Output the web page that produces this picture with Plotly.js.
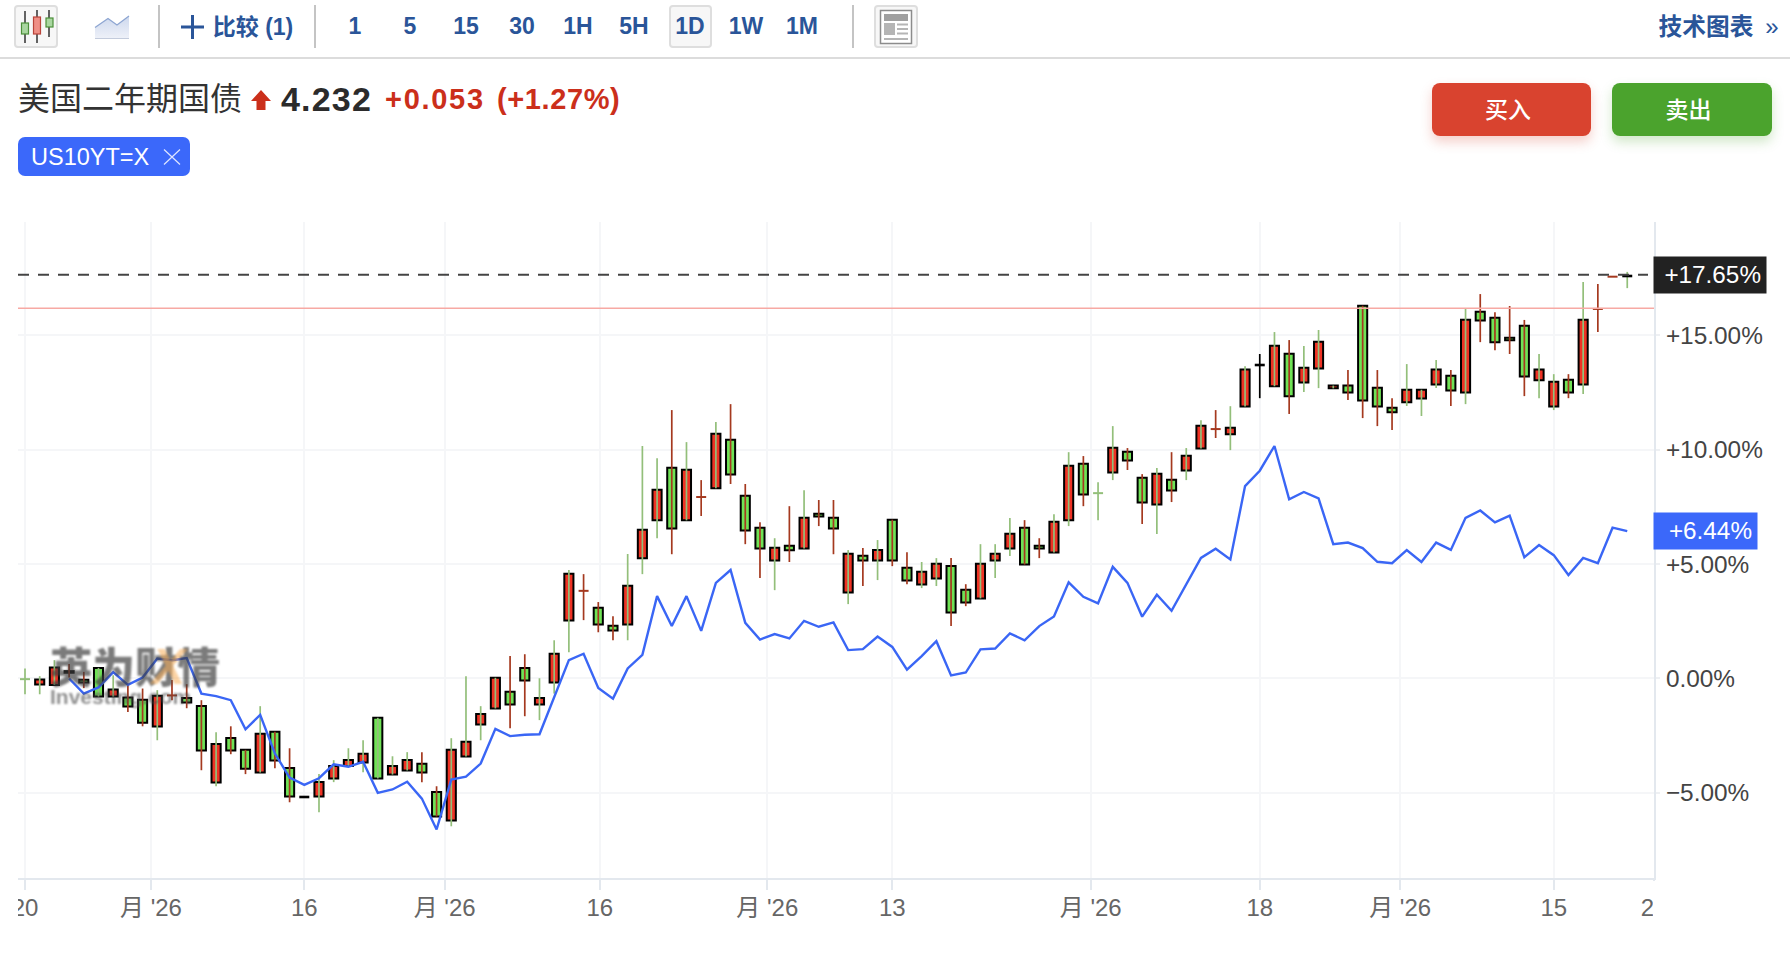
<!DOCTYPE html>
<html><head><meta charset="utf-8">
<script src="https://cdn.plot.ly/plotly-3.0.1.min.js"></script>
<style>
html,body{margin:0;padding:0;background:#fff;width:1790px;height:956px;overflow:hidden}
body{font-family:"Liberation Sans",Arial,sans-serif;position:relative}
#chart{position:absolute;left:0;top:0;width:1790px;height:956px}
.ab{position:absolute;white-space:nowrap}
.tb{position:absolute;top:26px;transform:translate(-50%,-50%);font:700 23px "Liberation Sans","Noto Sans CJK SC",sans-serif;color:#2a5599;white-space:nowrap}
.sep{position:absolute;top:5px;width:2px;height:43px;background:#c4c4c4}
.btnbox{position:absolute;top:5px;height:43px;box-sizing:border-box;background:#f7f7f7;border:2px solid #dedede;border-radius:4px}
.btn{position:absolute;top:83px;height:53px;box-sizing:border-box;padding-right:7px;border-radius:8px;color:#fff;text-align:center;font:500 23px/51px "Noto Sans CJK SC",sans-serif}
</style></head><body>
<div id="chart"></div>

<div class="btnbox" style="left:14px;width:44px"></div>
<svg class="ab" style="left:0;top:0" width="140" height="58">
 <path d="M25 11V43M37 10V43M49 10V37" stroke="#333" stroke-width="1.5"/>
 <rect x="21.5" y="23" width="7" height="11" fill="#a9d6a0" stroke="#4c8f3a" stroke-width="1.2"/>
 <rect x="33.5" y="17" width="7" height="17" fill="#ef8f86" stroke="#b9443a" stroke-width="1.2"/>
 <rect x="46" y="18" width="7" height="9" fill="#a9d6a0" stroke="#4c8f3a" stroke-width="1.2"/>
 <defs><linearGradient id="ga" x1="0" y1="0" x2="0" y2="1"><stop offset="0" stop-color="#cdd8ee"/><stop offset="1" stop-color="#eef1f8"/></linearGradient></defs>
 <path d="M95 27.5L108 18.5L117 25L129 16V38.5H95Z" fill="url(#ga)"/>
 <path d="M95 27.5L108 18.5L117 25L129 16" fill="none" stroke="#8ea6d2" stroke-width="1.3"/>
 <path d="M95 38.5H129" stroke="#c3cbdc" stroke-width="1"/>
</svg>
<div class="sep" style="left:158px"></div>
<svg class="ab" style="left:180px;top:14px" width="26" height="26"><path d="M1 13H24M12.5 1V25" stroke="#2a5599" stroke-width="3"/></svg>
<div class="tb" style="left:253px;top:25px">比较 (1)</div>
<div class="sep" style="left:314px"></div>
<div class="tb" style="left:355px">1</div>
<div class="tb" style="left:410px">5</div>
<div class="tb" style="left:466px">15</div>
<div class="tb" style="left:522px">30</div>
<div class="tb" style="left:578px">1H</div>
<div class="tb" style="left:634px">5H</div>
<div class="btnbox" style="left:669px;width:43px"></div>
<div class="tb" style="left:690px">1D</div>
<div class="tb" style="left:746px">1W</div>
<div class="tb" style="left:802px">1M</div>
<div class="sep" style="left:852px"></div>
<div class="btnbox" style="left:874px;width:44px"></div>
<svg class="ab" style="left:874px;top:5px" width="44" height="43">
 <rect x="6.5" y="5.5" width="31" height="33" fill="#fff" stroke="#8c8c8c" stroke-width="1.5"/>
 <rect x="10" y="9" width="24" height="7" fill="#a0a0a0"/>
 <rect x="10" y="18" width="11" height="12" fill="#b5b5b5"/>
 <path d="M23 19.5H34M23 24H34M23 28.5H34M10 34H34" stroke="#b5b5b5" stroke-width="2"/>
</svg>
<div class="tb" style="left:1706px;top:25px;font-size:23.7px;font-family:'Noto Sans CJK SC',sans-serif">技术图表</div>
<div class="tb" style="left:1772px;font-weight:400;font-size:24px;top:27px">»</div>
<div class="ab" style="left:0;top:57px;width:1790px;height:2px;background:#dcdcdc"></div>

<svg class="ab" style="left:250px;top:89px" width="22" height="22"><path d="M11 1L21 12H15.5V21H6.5V12H1Z" fill="#cb2f1b"/></svg>
<div class="ab" style="left:281px;top:80px;font:700 34px/38px 'Liberation Sans',sans-serif;color:#2b2b2b;letter-spacing:1.2px">4.232</div>
<div class="ab" style="left:385px;top:82px;font:700 29px/34px 'Liberation Sans',sans-serif;color:#cb2f1b;letter-spacing:1.7px">+0.053</div>
<div class="ab" style="left:497px;top:82px;font:700 29px/34px 'Liberation Sans',sans-serif;color:#cb2f1b;letter-spacing:.6px">(+1.27%)</div>

<div class="btn" style="left:1432px;width:159px;background:#d9432f;box-shadow:0 6px 12px rgba(217,67,47,.25)">买入</div>
<div class="btn" style="left:1612px;width:160px;background:#4ba32d;box-shadow:0 6px 12px rgba(75,163,45,.25)">卖出</div>

<div class="ab" style="left:18px;top:137px;width:172px;height:39px;border-radius:7px;background:#3b68fa;color:#fff;font:400 23.5px/41px 'Liberation Sans',sans-serif;text-indent:13px">US10YT=X</div>
<svg class="ab" style="left:163px;top:149px" width="18" height="16"><path d="M1 0.5L17 15.5M17 0.5L1 15.5" stroke="#dfe6ff" stroke-width="1.2"/></svg>

<div class="ab" style="left:50px;top:643px;font:900 42.5px/44px 'Noto Sans CJK SC',sans-serif;color:rgba(60,60,60,.68);filter:blur(1.2px);pointer-events:none">英为财情</div>
<div class="ab" style="left:152px;top:642px;font:italic 700 50px/50px 'Liberation Sans',sans-serif;color:rgba(250,175,90,.55);filter:blur(1.2px);pointer-events:none">X</div>
<div class="ab" style="left:50px;top:686px;font:700 21px/22px 'Liberation Sans',sans-serif;color:rgba(70,70,70,.6);filter:blur(1px);pointer-events:none">Investing.com</div>

<div class="ab" style="left:0;top:884px;width:18px;height:50px;background:#fff"></div>
<div class="ab" style="left:1653px;top:881px;width:40px;height:53px;background:#fff"></div>

<script>
var opens=[-0.03,-0.26,-0.28,0.25,-0.06,0.46,-0.79,-0.83,-0.93,-2.10,-0.74,-0.85,-1.20,-4.55,-2.60,-3.12,-4.11,-2.33,-3.91,-5.18,-5.16,-4.37,-3.82,-3.67,-1.72,-4.20,-4.02,-3.73,-4.96,-6.21,-3.41,-2.01,-1.31,-0.58,0.46,-1.14,-0.18,2.53,3.83,3.09,2.30,2.36,5.25,6.91,9.21,6.91,7.93,8.31,10.43,7.99,6.59,5.16,5.80,5.68,7.20,7.02,3.76,5.36,5.16,6.94,4.84,4.11,4.37,4.92,3.88,3.50,5.16,5.68,6.59,5.80,5.51,6.91,9.38,8.10,9.00,9.91,8.77,7.60,8.68,9.09,10.05,10.90,10.67,11.89,13.70,12.77,14.19,12.94,13.55,12.68,12.80,16.29,12.71,11.83,12.07,12.24,12.85,13.23,12.50,16.03,15.77,14.89,15.42,13.03,11.89,13.06,12.85,16.15,17.56,17.59];
var closes=[-0.03,-0.05,0.48,0.32,-0.18,-0.79,-0.48,-1.23,-1.93,-0.76,-0.74,-1.05,-3.15,-2.86,-3.15,-3.94,-2.42,-3.59,-5.16,-5.18,-4.52,-3.82,-3.56,-3.29,-4.37,-3.82,-3.56,-4.11,-6.03,-3.12,-2.77,-1.55,0.03,-1.14,-0.09,-0.85,1.08,4.58,3.83,2.36,2.10,4.05,6.50,8.25,6.56,9.12,7.93,10.70,8.92,6.47,5.68,5.71,5.60,7.02,7.08,6.56,5.45,5.16,5.62,5.16,4.28,4.66,5.01,2.88,3.32,5.01,5.45,6.32,4.98,5.68,6.85,9.30,8.04,8.10,10.08,9.53,7.69,8.95,8.22,9.73,11.05,10.90,10.96,13.50,13.70,14.54,12.33,13.58,14.72,12.80,12.50,12.15,11.89,11.63,12.62,12.62,13.50,12.59,15.68,15.65,14.69,14.78,13.20,13.50,12.97,12.50,15.68,16.15,17.56,17.59];
var highs=[0.44,0.10,0.80,0.63,0.29,0.46,0.14,-0.29,-0.44,-0.51,-0.07,-0.25,-0.95,-2.35,-2.09,-3.12,-1.21,-2.33,-3.05,-5.18,-4.18,-3.57,-3.05,-2.70,-1.72,-3.40,-3.22,-3.22,-4.71,-2.61,0.10,-1.21,0.03,0.98,1.06,0.01,1.67,4.74,4.56,3.34,2.72,5.44,10.16,9.63,11.73,10.33,8.67,11.21,11.99,8.50,6.83,6.13,7.53,8.23,7.80,7.80,5.61,5.70,6.05,6.94,5.52,5.09,5.26,5.26,4.12,5.87,5.87,7.01,6.92,6.13,7.18,9.89,9.72,8.58,11.03,10.07,8.93,9.20,9.89,10.07,11.29,11.73,11.90,13.65,14.18,15.14,14.79,14.53,15.23,12.80,13.48,16.29,13.48,12.25,13.74,12.62,13.92,13.48,16.19,16.80,16.01,16.28,15.67,14.18,13.30,13.30,17.33,17.24,17.56,17.77];
var lows=[-0.69,-0.69,-0.28,0.04,-0.42,-0.79,-0.79,-1.47,-2.09,-2.70,-0.95,-1.30,-4.01,-4.71,-3.31,-4.18,-4.11,-3.92,-5.41,-5.18,-5.85,-4.53,-3.82,-4.10,-4.37,-4.20,-4.02,-4.53,-6.03,-6.46,-3.41,-2.70,-1.31,-2.17,-1.65,-1.82,-0.66,1.15,2.55,2.02,1.67,1.67,4.56,6.13,5.43,6.91,7.10,8.31,8.50,5.87,4.39,3.86,5.09,5.68,6.66,5.43,3.25,4.04,4.30,4.91,4.12,3.95,4.04,2.29,3.16,3.50,4.39,5.35,4.98,5.26,5.51,6.66,7.53,6.92,8.67,9.11,6.75,6.31,7.71,8.67,10.05,10.51,9.98,11.89,12.25,12.77,11.56,12.52,12.69,12.68,12.17,11.38,11.03,10.86,11.91,11.47,12.69,11.91,11.99,14.70,14.35,14.18,12.34,12.25,11.73,12.25,12.43,15.14,17.56,17.06];
var wicks=["g","g","g","r","r","g","g","r","r","g",
 "r","r","r","g","r","r","g","r","r","k",
 "g","g","g","g","g","g","g","r","r","g",
 "g","g","g","r","r","g","g","g","r","r",
 "r","g","g","g","r","g","r","g","r","r",
 "r","g","r","g","r","r","g","r","g","r",
 "r","g","g","r","r","g","g","g","r","r",
 "g","g","r","g","g","r","r","g","r","g",
 "g","r","g","g","k","g","r","g","g","g",
 "r","r","r","r","g","g","g","r","g","r",
 "r","r","r","g","g","r","g","r","r","g"];
var compare=[null,null,null,0.00,-0.66,-0.39,0.28,-0.28,0.04,0.87,0.80,0.89,-0.66,-0.77,-0.95,-2.22,-1.59,-3.28,-4.33,-4.65,-4.36,-3.75,-3.86,-3.64,-5.00,-4.85,-4.51,-5.25,-6.60,-4.42,-4.29,-3.72,-2.20,-2.52,-2.46,-2.44,-0.80,0.80,1.08,-0.42,-0.88,0.44,1.03,3.60,2.29,3.60,2.08,4.18,4.74,2.43,1.70,1.94,1.75,2.52,2.26,2.45,1.24,1.28,1.83,1.38,0.39,0.98,1.63,0.13,0.26,1.27,1.31,1.97,1.67,2.29,2.71,4.20,3.57,3.28,4.88,4.18,2.70,3.66,2.96,4.12,5.27,5.67,5.20,8.41,9.08,10.16,7.83,8.15,7.87,5.87,5.94,5.70,5.10,5.04,5.61,5.09,5.94,5.62,7.02,7.34,6.82,7.12,5.30,5.83,5.39,4.52,5.27,5.04,6.59,6.44];
var blackDoji=[19,84,109];
var xTickVals=[0,8.57,19,28.55,39.1,50.5,59,72.5,84,93.55,104,110.82];
var xTickText=["20","月 '26","16","月 '26","16","月 '26","13","月 '26","18","月 '26","15","22"];
var yTickVals=[-5,0,5,10,15];
var yTickText=["−5.00%","0.00%","+5.00%","+10.00%","+15.00%"];
var lastPrice=17.65, compareLast=6.44, refLine=16.18;

var RED="#ee3224",GREEN="#6fe356",WR="#a5391f",WG="#93bf7a";
var idx=opens.map(function(_,i){return i});
var colorOf={r:WR,g:WG,k:"#000"};
function wickTrace(k){
  var x=[],y=[];
  idx.forEach(function(i){ if(wicks[i]===k && highs[i]>lows[i]){x.push(i,i,null);y.push(lows[i],highs[i],null);} });
  return {type:"scatter",mode:"lines",x:x,y:y,line:{color:colorOf[k],width:1.7},hoverinfo:"skip",showlegend:false};
}
var body=idx.filter(function(i){return opens[i]!==closes[i]});
var bars={type:"bar",x:body,y:body.map(function(i){return Math.abs(closes[i]-opens[i])}),
  base:body.map(function(i){return Math.min(opens[i],closes[i])}),width:0.62,
  marker:{color:body.map(function(i){return closes[i]>opens[i]?RED:GREEN}),line:{color:"#000",width:2}},hoverinfo:"skip",showlegend:false};
function dojiTrace(k,w){
  var x=[],y=[];
  idx.forEach(function(i){
    if(opens[i]!==closes[i])return;
    var kk=blackDoji.indexOf(i)>=0?"k":wicks[i];
    if(kk===k){x.push(i-0.34,i+0.34,null);y.push(opens[i],opens[i],null);}
  });
  return {type:"scatter",mode:"lines",x:x,y:y,line:{color:colorOf[k],width:w},hoverinfo:"skip",showlegend:false};
}
var blue={type:"scatter",mode:"lines",x:idx,y:compare,line:{color:"#3a66f5",width:2.4},hoverinfo:"skip",showlegend:false,name:"US10YT=X"};
var data=[wickTrace("r"),wickTrace("g"),wickTrace("k"),bars,dojiTrace("r",2),dojiTrace("g",2),dojiTrace("k",2.6),blue];
var ax="#e3e8ee",grid="#f5f6f8";
var layout={
  width:1790,height:956,paper_bgcolor:"#fff",plot_bgcolor:"#fff",showlegend:false,barmode:"overlay",
  margin:{l:18,r:136,t:222,b:78.3,pad:0},
  font:{family:"Liberation Sans, Noto Sans CJK SC, sans-serif"},
  title:{text:"美国二年期国债",x:18/1790,xanchor:"left",xref:"container",y:1-99/956,yanchor:"middle",pad:{l:0,r:0,t:0,b:0},font:{family:"Noto Sans CJK SC",size:32,color:"#333"}},
  xaxis:{range:[-0.476,110.82],tickmode:"array",tickvals:xTickVals,ticktext:xTickText,showgrid:true,gridcolor:grid,gridwidth:2,zeroline:false,
    showline:true,linecolor:ax,linewidth:2,ticks:"outside",ticklen:10,tickwidth:2,tickcolor:ax,tickfont:{size:24,color:"#666"},tickangle:0,ticklabelstandoff:-3},
  yaxis:{range:[-8.72,19.95],side:"right",tickmode:"array",tickvals:yTickVals,ticktext:yTickText,showgrid:true,gridcolor:grid,gridwidth:2,zeroline:false,
    showline:true,linecolor:ax,linewidth:2,ticks:"outside",ticklen:4,tickwidth:2,tickcolor:"#eef0f3",tickfont:{size:24.4,color:"#444"},ticklabelstandoff:1},
  shapes:[
    {type:"line",xref:"paper",x0:0,x1:1,yref:"y",y0:refLine,y1:refLine,line:{color:"#f7a9a4",width:1.5},layer:"above"},
    {type:"line",xref:"paper",x0:0,x1:1630/1636,yref:"y",y0:lastPrice,y1:lastPrice,line:{color:"#444",width:2,dash:"11px,9px"},layer:"above"}
  ],
  annotations:[
    {xref:"paper",yref:"y",x:1,y:lastPrice,xanchor:"left",yanchor:"middle",xshift:-1,showarrow:false,text:"+"+lastPrice.toFixed(2)+"%",bgcolor:"#222",font:{color:"#fff",size:24.3},width:102,height:26,borderpad:5,align:"right",valign:"bottom"},
    {xref:"paper",yref:"y",x:1,y:compareLast,xanchor:"left",yanchor:"middle",xshift:-1,showarrow:false,text:"+"+compareLast.toFixed(2)+"%",bgcolor:"#3b68fa",font:{color:"#fff",size:24.3},width:93,height:26,borderpad:5,align:"right",valign:"bottom"}
  ]
};
Plotly.newPlot("chart",data,layout,{displayModeBar:false});
</script>
</body></html>
